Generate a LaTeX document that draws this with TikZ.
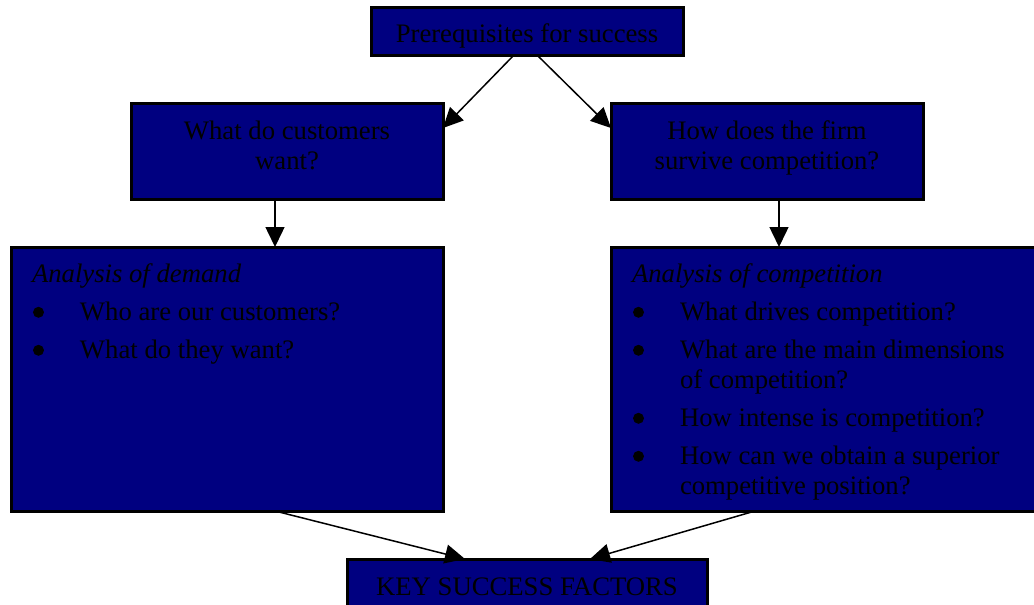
\documentclass[tikz,border=0pt]{standalone}
\usepackage{fontspec}
\setmainfont{Liberation Serif}
\usetikzlibrary{arrows.meta}
\definecolor{boxnavy}{RGB}{0,0,128}
% round bullet dot sitting on the baseline
\newcommand\qdot{\tikz[baseline=0pt]{\path[use as bounding box] (-5.5pt,0pt) rectangle (5.5pt,14pt);\fill[black] (0pt,8.5pt) circle[radius=5.5pt];}}
% one bulleted question with a hanging indent
\newcommand\qitem{\par\hangindent=48pt\hangafter=1\noindent\hspace*{1pt}\makebox[47pt][l]{\qdot}}
% text block for the two analysis boxes
\newcommand\analysis[1]{\parbox[c][264pt][t]{432pt}{\raggedright\leftskip=21pt\parskip=8pt\parindent=0pt\vspace*{9pt}#1\par}}
% two centred lines for the question boxes
\newcommand\question[1]{\parbox[c][96pt][t]{312pt}{\centering\vspace*{17.8pt}#1\par}}
\begin{document}
\begin{tikzpicture}[x=1pt,y=-1pt,
  box/.style={draw=black, line width=3pt, fill=boxnavy, text=black,
    inner sep=0pt, outer sep=0pt, font=\fontsize{26.7}{30}\selectfont},
  link/.style={draw=black, line width=1.5pt, -{Triangle[length=20pt,width=19pt]}}]
\useasboundingbox (0,0) rectangle (1034,605);

\node[box, minimum width=312, minimum height=48, text height=22pt, text depth=0pt] (top) at (527,31) {Prerequisites for success};
\node[box, minimum width=312, minimum height=96] (lmid) at (287,151) {\question{What do customers\\want?}};
\node[box, minimum width=312, minimum height=96] (rmid) at (767,151) {\question{How does the firm\\survive competition?}};
\node[box, minimum width=432, minimum height=264] (lbig) at (227,379)
  {\analysis{\textit{Analysis of demand}
    \qitem Who are our customers?
    \qitem What do they want?}};
\node[box, minimum width=432, minimum height=264] (rbig) at (827,379)
  {\analysis{\textit{Analysis of competition}
    \qitem What drives competition?
    \qitem What are the main dimensions\newline of competition?
    \qitem How intense is competition?
    \qitem How can we obtain a superior\newline competitive position?}};
\node[box, minimum width=360, minimum height=56, text height=16pt, text depth=0pt] (key) at (527,587) {KEY SUCCESS FACTORS};

\draw[link] ([xshift=-13pt]top.south) -- ([yshift=23pt]lmid.east);
\draw[link] ([xshift=10pt]top.south) -- ([yshift=23pt]rmid.west);
\draw[link] ([xshift=-12pt]lmid.south) -- ([xshift=48pt]lbig.north);
\draw[link] ([xshift=12pt]rmid.south) -- ([xshift=-48pt]rbig.north);
\draw[link] ([xshift=48pt]lbig.south) -- ([xshift=-62pt]key.north);
\draw[link] ([xshift=-72pt]rbig.south) -- ([xshift=63pt]key.north);
\end{tikzpicture}
\end{document}
